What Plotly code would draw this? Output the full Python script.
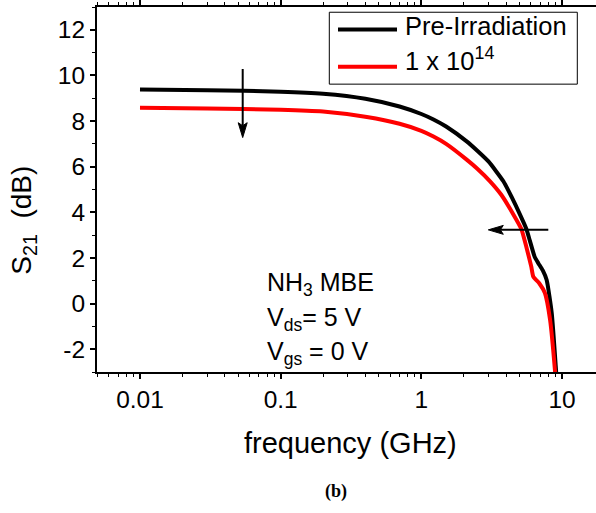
import plotly.graph_objects as go
import numpy as np

# ---- data ----
freq_pre = [0.01, 0.03, 0.1, 0.2, 0.4, 0.7, 1.0, 1.22, 1.5, 2.1, 2.5, 3.0, 3.83, 4.4, 5.01,
            5.58, 5.9, 6.4, 6.8, 7.3, 7.78, 8.45, 9.07, 9.2]
s21_pre = [9.38, 9.35, 9.29, 9.2, 8.98, 8.64, 8.31, 8.07, 7.76, 7.11, 6.70, 6.23, 5.36, 4.65, 3.92,
           3.27, 2.77, 2.04, 1.76, 1.45, 1.03, -0.41, -2.93, -3.5]
freq_irr = [0.01, 0.03, 0.1, 0.2, 0.41, 0.7, 1.0, 1.22, 1.5, 2.1, 2.5, 3.08, 3.7, 4.5, 5.14,
            5.58, 6.05, 6.25, 6.89, 7.56, 8.22, 8.91, 9.05]
s21_irr = [8.58, 8.55, 8.5, 8.42, 8.18, 7.88, 7.57, 7.32, 7.0, 6.31, 5.91, 5.36, 4.77, 3.92, 3.27,
           2.48, 1.61, 1.18, 0.89, 0.46, -0.70, -2.93, -3.5]
series_names = ["Pre-Irradiation", "1 x 10<sup>14</sup>"]
series_colors = ["#000000", "#ff0000"]

x_tickvals = [0.01, 0.1, 1, 10]
x_ticktext = ["0.01", "0.1", "1", "10"]
x_minor = [m * 10.0 ** e for e in range(-3, 2) for m in range(2, 10)]
y_tickvals = [-2, 0, 2, 4, 6, 8, 10, 12]
y_ticktext = ["-2", "0", "2", "4", "6", "8", "10", "12"]
y_minor = [-3, -1, 1, 3, 5, 7, 9, 11, 13]

# ---- layout geometry (pixels) ----
W, H = 596, 513
L, R, T, B = 97, 596, 3, 372
FONT = "Liberation Sans, Arial, sans-serif"


def px(x):
    return (x - L) / (R - L)


def py(y):
    return (B - y) / (B - T)


fig = go.Figure()
for fx, fy, name, col in zip([freq_pre, freq_irr], [s21_pre, s21_irr], series_names, series_colors):
    fig.add_trace(go.Scatter(x=fx, y=fy, mode="lines", name=name,
                             line=dict(color=col, width=4, shape="spline", smoothing=0.5),
                             showlegend=False))

axis_common = dict(showline=True, linecolor="black", linewidth=2, ticks="outside",
                   ticklen=5, tickwidth=1.5, tickcolor="black", showgrid=False, zeroline=False,
                   tickfont=dict(family=FONT, size=24.5, color="black"))

fig.update_xaxes(type="log", range=[np.log10(0.01) - 43 / 140.7, 1 + 34 / 140.7],
                 tickvals=x_tickvals, ticktext=x_ticktext, mirror="ticks",
                 minor=dict(tickvals=x_minor, ticks="outside", ticklen=3, tickwidth=1.2,
                            tickcolor="black"),
                 **axis_common)
fig.update_yaxes(range=[-3, 13], tickvals=y_tickvals, ticktext=y_ticktext, mirror=False,
                 minor=dict(tickvals=y_minor, ticks="outside", ticklen=3, tickwidth=1.2,
                            tickcolor="black"),
                 **axis_common)

shapes = []
# legend box
shapes.append(dict(type="rect", xref="paper", yref="paper", x0=px(329.3), x1=px(577.3),
                   y0=py(8.3), y1=py(81), line=dict(color="black", width=1), fillcolor="white",
                   layer="above"))
for yy, col in zip([25.7, 63.3], series_colors):
    shapes.append(dict(type="line", xref="paper", yref="paper", x0=px(338), x1=px(397),
                       y0=py(yy), y1=py(yy), line=dict(color=col, width=4)))


def arrow(x0, y0, x1, y1, head=15, half=4.5):
    d = np.array([x1 - x0, y1 - y0], float)
    d /= np.hypot(*d)
    n = np.array([-d[1], d[0]])
    tip = np.array([x1, y1], float)
    base = tip - d * head
    notch = tip - d * (head - 3)
    c1 = base + n * half
    c2 = base - n * half
    out = [dict(type="line", xref="paper", yref="paper", x0=px(x0), y0=py(y0),
                x1=px(notch[0]), y1=py(notch[1]), line=dict(color="black", width=2))]
    pts = [tip, c1, notch, c2]
    path = "M " + " L ".join(f"{px(p[0])},{py(p[1])}" for p in pts) + " Z"
    out.append(dict(type="path", xref="paper", yref="paper", path=path,
                    fillcolor="black", line=dict(color="black", width=1)))
    return out


shapes += arrow(242.7, 65.7, 242.7, 135)
shapes += arrow(548.3, 228.3, 488.3, 228.3)

annotations = []
for yy, txt in zip([22.7, 55.5], series_names):
    annotations.append(dict(xref="paper", yref="paper", x=px(403), y=py(yy), text=txt,
                            showarrow=False, xanchor="left", yanchor="middle",
                            font=dict(family=FONT, size=25.5, color="black")))
for yy, txt in zip([283.5, 318.5, 352.5],
                   ["NH<sub>3</sub> MBE", "V<sub>ds</sub>= 5 V", "V<sub>gs</sub> = 0 V"]):
    annotations.append(dict(xref="paper", yref="paper", x=px(264.5), y=py(yy), text=txt,
                            showarrow=False, xanchor="left", yanchor="middle",
                            font=dict(family=FONT, size=25, color="black")))
annotations.append(dict(xref="paper", yref="paper", x=px(350.8), y=py(444),
                        text="frequency (GHz)", showarrow=False, xanchor="center",
                        yanchor="middle", font=dict(family=FONT, size=29, color="black")))
annotations.append(dict(xref="paper", yref="paper", x=px(24), y=py(219),
                        text="S<sub>21</sub>  (dB)", showarrow=False, textangle=-90,
                        xanchor="center", yanchor="middle",
                        font=dict(family=FONT, size=28, color="black")))
annotations.append(dict(xref="paper", yref="paper", x=px(335.7), y=py(493.3),
                        text="<b>(b)</b>", showarrow=False, xanchor="center", yanchor="middle",
                        font=dict(family="Liberation Serif, Times New Roman, serif", size=18,
                                  color="black")))

fig.update_layout(width=W, height=H, margin=dict(l=L, r=W - R, t=T, b=H - B),
                  paper_bgcolor="white", plot_bgcolor="white", showlegend=False,
                  shapes=shapes, annotations=annotations)

fig.write_html("out.html")
